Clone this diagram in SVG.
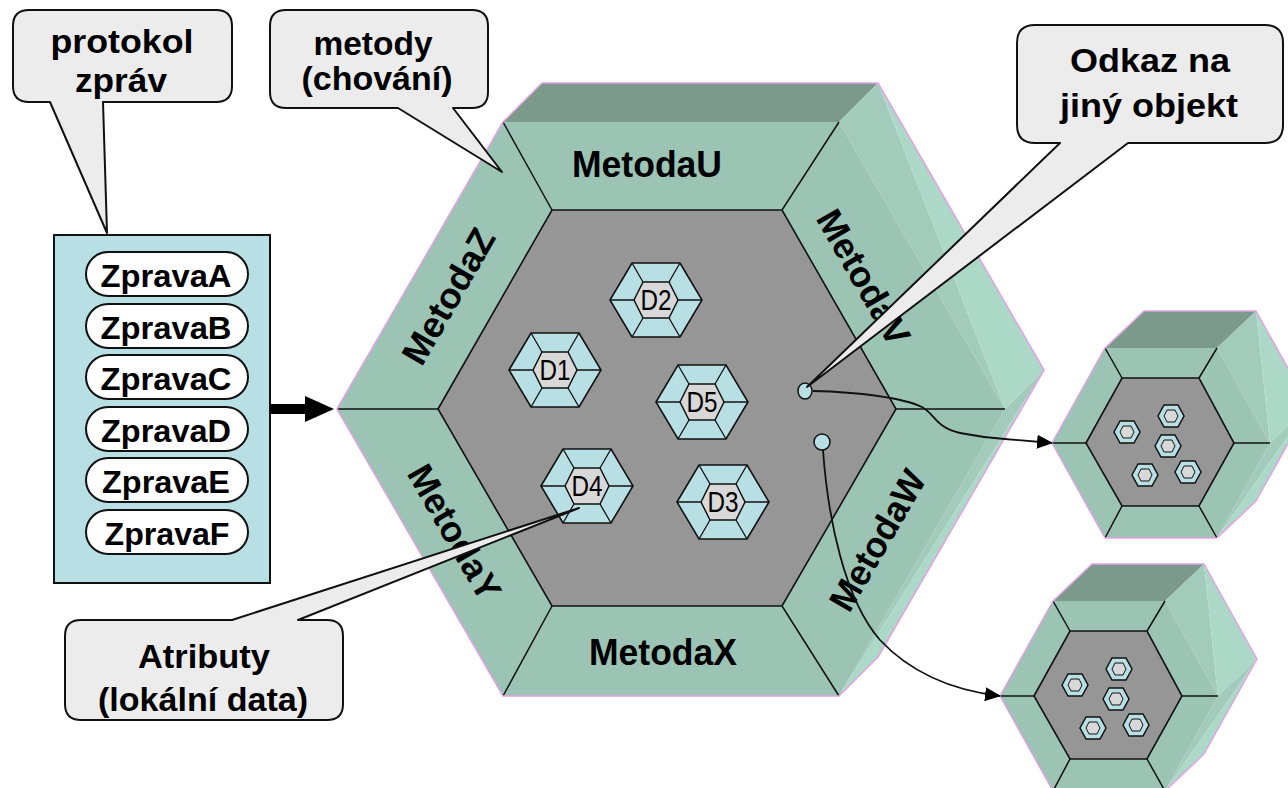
<svg xmlns="http://www.w3.org/2000/svg" xmlns:xlink="http://www.w3.org/1999/xlink" width="1288" height="788" viewBox="0 0 1288 788">
<style>
.ring{fill:#9cc4b4}
.topf{fill:#7b9a8b}
.mid{fill:#a3cbbb}
.lite{fill:#acd8c8}
.fringe{fill:none;stroke:#e2a2e2;stroke-width:1.5;stroke-linejoin:round}
.core{fill:#969696;stroke:#111;stroke-width:1.6}
.div{fill:none;stroke:#111;stroke-width:1.5}
.lbl{font-family:"Liberation Sans",Arial,sans-serif;font-weight:bold;font-size:36px;fill:#000;text-anchor:middle}
.call{fill:#ececec;stroke:#111;stroke-width:2;stroke-linejoin:round}
.ctext{font-family:"Liberation Sans",Arial,sans-serif;font-weight:bold;font-size:34px;fill:#000;text-anchor:middle}
.msg{fill:#fff;stroke:#111;stroke-width:2}
.mtext{font-family:"Liberation Sans",Arial,sans-serif;font-weight:bold;font-size:32px;fill:#000;text-anchor:middle}
.dtext{font-family:"Liberation Sans",Arial,sans-serif;font-size:29px;fill:#000;text-anchor:middle}
.conn{fill:none;stroke:#111;stroke-width:1.8}
.dot{fill:#b8e0e4;stroke:#111;stroke-width:1.5}
</style>
<defs>
<marker id="ah" markerWidth="16" markerHeight="14" refX="15" refY="7" orient="auto" markerUnits="userSpaceOnUse">
<path d="M0,0 L16,7 L0,14 Z" fill="#000"/>
</marker>
<g id="dhex">
<polygon points="-46,0 -24,-37 24,-37 46,0 24,37 -24,37" fill="#b8e0e4" stroke="#111" stroke-width="1.6"/>
<path d="M-46,0 H-22 M-24,-37 L-13,-18 M24,-37 L13,-18 M46,0 H22 M24,37 L13,18 M-24,37 L-13,18" stroke="#111" stroke-width="1.3" fill="none"/>
<polygon points="-22,0 -13,-18 13,-18 22,0 13,18 -13,18" fill="#d8d8d8" stroke="#111" stroke-width="1.5"/>
</g>
<g id="mini">
<polygon points="-13,0 -7,-11 7,-11 13,0 7,11 -7,11" fill="#b8e0e4" stroke="#111" stroke-width="1.5"/>
<polygon points="-7,0 -4,-6 4,-6 7,0 4,6 -4,6" fill="#d8d8d8" stroke="#111" stroke-width="1"/>
</g>
<g id="prism">
<polygon class="topf" points="-56,-95 56,-95 95,-132 -17,-132"/>
<polygon class="mid" points="56,-95 95,-132 109,0"/>
<polygon class="lite" points="95,-132 148,-37 109,0"/>
<polygon class="mid" points="109,0 148,-37 56,95"/>
<polygon class="lite" points="148,-37 95,58 56,95"/>
<polygon class="ring" points="-109,0 -56,-95 56,-95 109,0 56,95 -56,95"/>
<path class="div" d="M-109,0 H-75 M-56,-95 L-39,-65 M56,-95 L38,-65 M109,0 H73 M56,95 L38,63 M-56,95 L-39,63"/>
<polygon class="core" points="-75,0 -39,-65 38,-65 73,0 38,63 -39,63"/>
<polygon class="fringe" points="-109,0 -56,-95 -17,-132 95,-132 148,-37 95,58 56,95 -56,95"/>
<use xlink:href="#mini" x="-34" y="-11"/>
<use xlink:href="#mini" x="10" y="-27"/>
<use xlink:href="#mini" x="7" y="3"/>
<use xlink:href="#mini" x="-16" y="32"/>
<use xlink:href="#mini" x="27" y="29"/>
</g>
</defs>

<rect width="1288" height="788" fill="#fff"/>

<g id="object-main">
<polygon class="topf" points="503,122 839,122 878,83 542,83"/>
<polygon class="mid" points="839,122 878,83 1005,409"/>
<polygon class="lite" points="878,83 1044,370 1005,409"/>
<polygon class="mid" points="1005,409 1044,370 839,696"/>
<polygon class="lite" points="1044,370 878,657 839,696"/>
<polygon class="ring" points="337,409 503,122 839,122 1005,409 839,696 503,696"/>
<path class="div" d="M337,409 H438 M503,122 L552,210 M839,122 L782,210 M1005,409 H896 M839,696 L782,606 M503,696 L552,606"/>
<polygon class="core" points="438,409 552,210 782,210 896,409 782,606 552,606"/>
<polygon class="fringe" points="337,409 503,122 542,83 878,83 1044,370 878,657 839,696 503,696"/>
<text class="lbl" x="647" y="177" textLength="150" lengthAdjust="spacingAndGlyphs">MetodaU</text>
<text class="lbl" x="663" y="665" textLength="148" lengthAdjust="spacingAndGlyphs">MetodaX</text>
<text class="lbl" transform="translate(448,296) rotate(-60)" x="0" y="13" textLength="150" lengthAdjust="spacingAndGlyphs">MetodaZ</text>
<text class="lbl" transform="translate(864,277) rotate(60)" x="0" y="13" textLength="150" lengthAdjust="spacingAndGlyphs">MetodaV</text>
<text class="lbl" transform="translate(455,532) rotate(60)" x="0" y="13" textLength="150" lengthAdjust="spacingAndGlyphs">MetodaY</text>
<text class="lbl" transform="translate(877,540) rotate(-60)" x="0" y="13" textLength="156" lengthAdjust="spacingAndGlyphs">MetodaW</text>
</g>

<g id="D1" transform="translate(555,370)"><use xlink:href="#dhex"/><text class="dtext" x="0" y="10" textLength="31" lengthAdjust="spacingAndGlyphs">D1</text></g>
<g id="D2" transform="translate(656,300)"><use xlink:href="#dhex"/><text class="dtext" x="0" y="10" textLength="31" lengthAdjust="spacingAndGlyphs">D2</text></g>
<g id="D5" transform="translate(702,402)"><use xlink:href="#dhex"/><text class="dtext" x="0" y="10" textLength="31" lengthAdjust="spacingAndGlyphs">D5</text></g>
<g id="D4" transform="translate(587,486)"><use xlink:href="#dhex"/><text class="dtext" x="0" y="10" textLength="31" lengthAdjust="spacingAndGlyphs">D4</text></g>
<g id="D3" transform="translate(723,502)"><use xlink:href="#dhex"/><text class="dtext" x="0" y="10" textLength="31" lengthAdjust="spacingAndGlyphs">D3</text></g>

<g id="ref1"><ellipse class="dot" cx="805" cy="391" rx="7" ry="8"/></g>
<g id="ref2"><ellipse class="dot" cx="822" cy="442" rx="8" ry="8"/></g>

<g id="object-2" transform="translate(1161,443)"><use xlink:href="#prism"/></g>
<g id="object-3" transform="translate(1109,696)"><use xlink:href="#prism"/></g>

<g id="messages">
<rect x="54" y="235" width="216" height="348" fill="#b8dfe3" stroke="#111" stroke-width="2"/>
<rect class="msg" x="86" y="252" width="162" height="44" rx="22"/>
<rect class="msg" x="86" y="304" width="162" height="44" rx="22"/>
<rect class="msg" x="86" y="355" width="162" height="44" rx="22"/>
<rect class="msg" x="86" y="407" width="162" height="44" rx="22"/>
<rect class="msg" x="86" y="458" width="162" height="44" rx="22"/>
<rect class="msg" x="86" y="510" width="162" height="44" rx="22"/>
<text class="mtext" x="166" y="287" textLength="131" lengthAdjust="spacingAndGlyphs">ZpravaA</text>
<text class="mtext" x="166" y="339" textLength="131" lengthAdjust="spacingAndGlyphs">ZpravaB</text>
<text class="mtext" x="166" y="390" textLength="131" lengthAdjust="spacingAndGlyphs">ZpravaC</text>
<text class="mtext" x="166" y="442" textLength="130" lengthAdjust="spacingAndGlyphs">ZpravaD</text>
<text class="mtext" x="166" y="493" textLength="128" lengthAdjust="spacingAndGlyphs">ZpravaE</text>
<text class="mtext" x="167" y="545" textLength="125" lengthAdjust="spacingAndGlyphs">ZpravaF</text>
</g>

<g id="connectors">
<rect x="270" y="404" width="37" height="10" fill="#000"/>
<polygon points="305,396 334,409 305,422" fill="#000"/>
<path class="conn" d="M813,391 C860,392 903,398 922,407 C935,414 936,428 960,433 C975,436 990,438 1005,439 L1052,443" marker-end="url(#ah)"/>
<path class="conn" d="M823,450 C828,520 845,600 880,640 C910,672 950,690 1000,696" marker-end="url(#ah)"/>
</g>

<g id="callout-protokol">
<path class="call" d="M29,10 H216 Q232,10 232,26 V86 Q232,102 216,102 H103 L107,233 L50,102 H29 Q13,102 13,86 V26 Q13,10 29,10 Z"/>
<text class="ctext" x="122" y="53" textLength="143" lengthAdjust="spacingAndGlyphs">protokol</text>
<text class="ctext" x="121" y="92" textLength="92" lengthAdjust="spacingAndGlyphs">zpráv</text>
</g>

<g id="callout-metody">
<path class="call" d="M286,10 H472 Q488,10 488,26 V92 Q488,108 472,108 H453 L502,172 L398,108 H286 Q270,108 270,92 V26 Q270,10 286,10 Z"/>
<text class="ctext" x="373" y="55" textLength="119" lengthAdjust="spacingAndGlyphs">metody</text>
<text class="ctext" x="377" y="90" textLength="151" lengthAdjust="spacingAndGlyphs">(chování)</text>
</g>

<g id="callout-odkaz">
<path class="call" d="M1035,25 H1265 Q1283,25 1283,43 V125 Q1283,143 1265,143 H1128 L807,387 L1060,143 H1035 Q1017,143 1017,125 V43 Q1017,25 1035,25 Z"/>
<text class="ctext" x="1150" y="72" textLength="160" lengthAdjust="spacingAndGlyphs">Odkaz na</text>
<text class="ctext" x="1149" y="117" textLength="178" lengthAdjust="spacingAndGlyphs">jiný objekt</text>
</g>

<g id="callout-atributy">
<path class="call" d="M81,620 H232 L579,508 L298,620 H327 Q343,620 343,636 V704 Q343,720 327,720 H81 Q65,720 65,704 V636 Q65,620 81,620 Z"/>
<text class="ctext" x="204" y="668" textLength="132" lengthAdjust="spacingAndGlyphs">Atributy</text>
<text class="ctext" x="203" y="711" textLength="210" lengthAdjust="spacingAndGlyphs">(lokální data)</text>
</g>
</svg>
